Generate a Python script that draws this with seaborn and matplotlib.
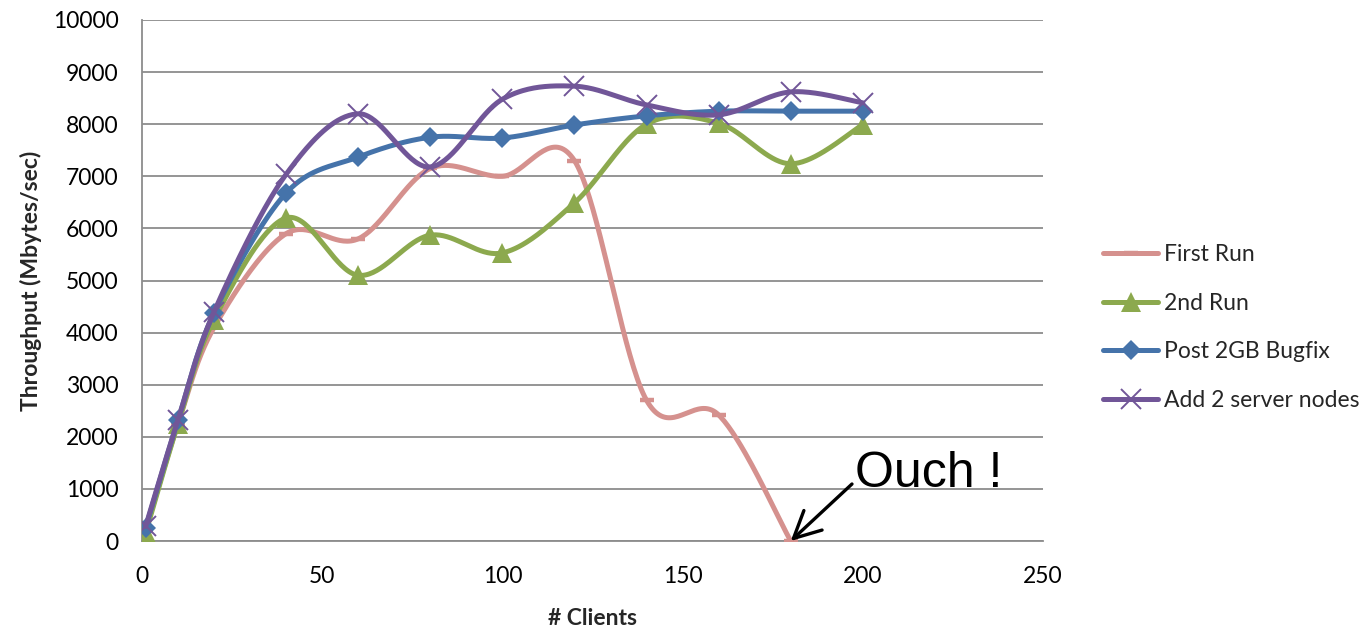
import numpy as np
import pandas as pd
import matplotlib
matplotlib.use("Agg")
import matplotlib.pyplot as plt
from matplotlib.lines import Line2D
import seaborn as sns

# Measured throughput per client count
clients = [1, 10, 20, 40, 60, 80, 100, 120, 140, 160, 180, 200]
first_run = [200, 2250, 4100, 5900, 5800, 7150, 7000, 7300, 2700, 2420, 0]
second_run = [150, 2250, 4250, 6200, 5100, 5870, 5530, 6490, 8000, 8020, 7240, 7990]
post_bugfix = [250, 2320, 4380, 6680, 7370, 7750, 7735, 7985, 8160, 8250, 8250, 8250]
add_nodes = [280, 2330, 4400, 7040, 8200, 7180, 8480, 8730, 8370, 8180, 8620, 8410]

series_names = ["First Run", "2nd Run", "Post 2GB Bugfix", "Add 2 server nodes"]
series_values = [first_run, second_run, post_bugfix, add_nodes]
colors = ["#D5918E", "#8CA94E", "#4573AA", "#715698"]
x_ticks = [0, 50, 100, 150, 200, 250]
y_ticks = list(range(0, 10001, 1000))

sns.set_style("white")
plt.rcParams["font.family"] = ["Lato", "DejaVu Sans"]

FS = 16.5


def smooth_curve(xs, ys, n=40):
    """Bezier smoothing through every point (Catmull-Rom style tangents)."""
    P = np.column_stack([xs, ys]).astype(float)
    out = []
    t = np.linspace(0, 1, n)[:, None]
    for i in range(len(P) - 1):
        p0 = P[i - 1] if i > 0 else P[i]
        p1, p2 = P[i], P[i + 1]
        p3 = P[i + 2] if i + 2 < len(P) else P[i + 1]
        c1 = p1 + (p2 - p0) / 6.0
        c2 = p2 - (p3 - p1) / 6.0
        seg = ((1 - t) ** 3) * p1 + 3 * ((1 - t) ** 2) * t * c1 \
            + 3 * (1 - t) * t ** 2 * c2 + t ** 3 * p2
        out.append(seg if i == 0 else seg[1:])
    return np.vstack(out)


frames = []
for name, vals in zip(series_names, series_values):
    xs = clients[:len(vals)]
    curve = smooth_curve(xs, vals)
    frames.append(pd.DataFrame({"clients": curve[:, 0], "throughput": curve[:, 1],
                                "series": name}))
curves = pd.concat(frames, ignore_index=True)

fig = plt.figure(figsize=(13.72, 6.28), dpi=100)
ax = fig.add_axes([142 / 1372, 1 - 541 / 628, (1043 - 142) / 1372, (541 - 20) / 628])

marker_styles = {
    "First Run": dict(marker="_", ms=10, mew=3.2),
    "2nd Run": dict(marker="^", ms=14, mew=0),
    "Post 2GB Bugfix": dict(marker="D", ms=10, mew=0),
    "Add 2 server nodes": dict(marker="x", ms=14, mew=1.4),
}

for k, (name, vals, col) in enumerate(zip(series_names, series_values, colors)):
    sub = curves[curves["series"] == name]
    sns.lineplot(data=sub, x="clients", y="throughput", color=col, linewidth=3.6,
                 sort=False, estimator=None, ax=ax, legend=False, zorder=3 + k,
                 solid_capstyle="round")
    ax.plot(clients[:len(vals)], vals, linestyle="none", color=col,
            markerfacecolor=col, markeredgecolor=col, zorder=3 + k,
            **marker_styles[name])

ax.set_xlim(0, 250)
ax.set_ylim(0, 10000)
ax.set_xticks(x_ticks)
ax.set_yticks(y_ticks)
ax.yaxis.grid(True, color="#8C8C8C", linewidth=1.3)
ax.xaxis.grid(False)
ax.set_axisbelow(True)
for side in ["top", "right"]:
    ax.spines[side].set_visible(False)
for side in ["left", "bottom"]:
    ax.spines[side].set_color("#8C8C8C")
    ax.spines[side].set_linewidth(1.3)
ax.tick_params(axis="both", which="major", direction="out", length=6, width=1.3,
               color="#8C8C8C", labelsize=FS, labelcolor="black")
ax.tick_params(axis="y", pad=11)
ax.tick_params(axis="x", pad=12)

ax.set_xlabel("# Clients", fontsize=FS, fontweight="bold", labelpad=15)
ax.set_ylabel("Throughput (Mbytes/sec)", fontsize=FS, fontweight="bold", labelpad=8)

# Annotation pointing at the collapse of the first run
ax.annotate("", xy=(180, 0), xytext=(197.0, 1094),
            arrowprops=dict(arrowstyle="->,head_length=0.8,head_width=0.4",
                            color="black", lw=2.4, mutation_scale=24,
                            shrinkA=0, shrinkB=0), zorder=10)
ax.text(197.8, 1036, "Ouch !", fontsize=36, family=["Liberation Sans", "DejaVu Sans"],
        ha="left", va="baseline", color="black", zorder=10)

handles = [Line2D([0], [0], color=c, linewidth=3.6, solid_capstyle="round",
                  markerfacecolor=c, markeredgecolor=c, **marker_styles[n])
           for n, c in zip(series_names, colors)]
fig.legend(handles, series_names, loc="center left",
           bbox_to_anchor=(1103 / 1372, 1 - 327.5 / 628), frameon=False,
           fontsize=FS, handlelength=2.4, handletextpad=0.25, labelspacing=1.22,
           borderpad=0, borderaxespad=0)

fig.savefig("out.png", dpi=100)
